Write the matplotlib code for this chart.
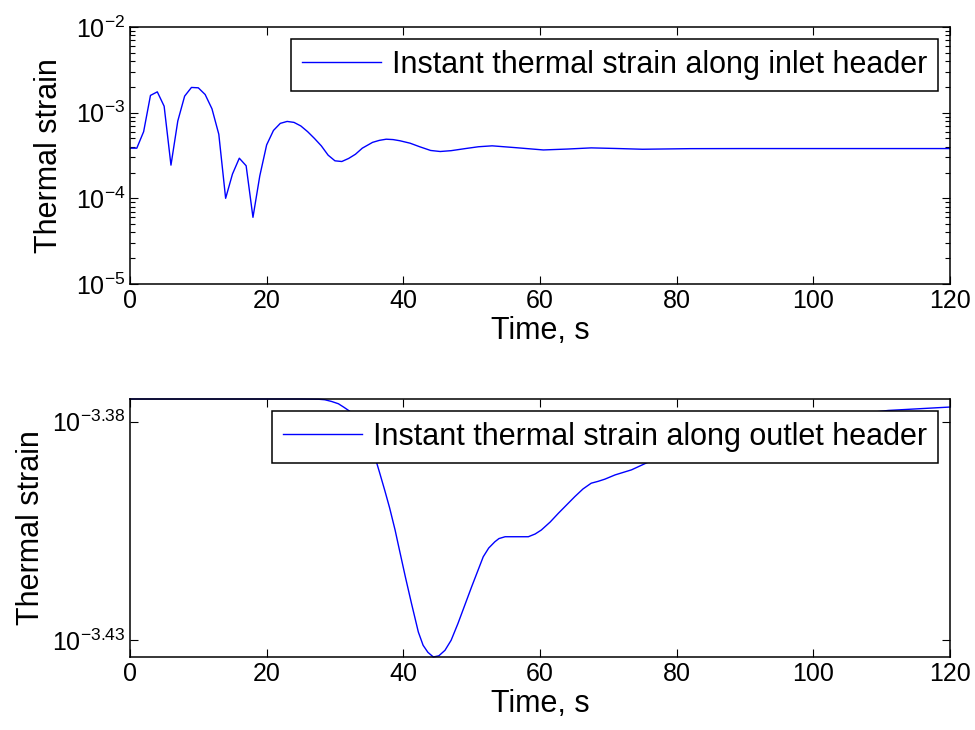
import numpy as np
import matplotlib
matplotlib.use('Agg')
import matplotlib.pyplot as plt
from matplotlib.ticker import FixedLocator, NullLocator, FixedFormatter

plt.rcParams['font.family'] = ['Liberation Sans', 'DejaVu Sans']
plt.rcParams['mathtext.fontset'] = 'custom'
plt.rcParams['mathtext.rm'] = 'Liberation Sans'
plt.rcParams['mathtext.it'] = 'Liberation Sans:italic'

# inlet header strain (x1e-4)
t_in = [0, 1, 2, 3, 4, 5, 6, 7, 8, 9, 10, 11, 12, 13, 14, 15, 16, 17, 18, 19,
        20, 21, 22, 23, 24, 25, 26, 27, 28, 29, 30, 31, 32, 33, 34, 35.5, 36.5,
        37.5, 38.5, 39.5, 41, 42.4, 44, 45.4, 47, 49, 51, 53, 56.5, 60.5, 64,
        67.5, 71, 75, 82, 90, 100, 110, 120]
s_in = [3.85, 3.85, 6.0, 15.9, 17.5, 11.9, 2.44, 8.0, 15.6, 19.7, 19.5, 16.3,
        11.1, 5.6, 1.0, 1.92, 2.94, 2.40, 0.60, 1.83, 4.2, 6.2, 7.5, 7.9, 7.7,
        7.0, 6.0, 5.0, 4.1, 3.19, 2.74, 2.69, 2.92, 3.27, 3.85, 4.5, 4.75,
        4.9, 4.85, 4.7, 4.4, 4.0, 3.62, 3.52, 3.6, 3.8, 4.0, 4.1, 3.9, 3.67,
        3.76, 3.88, 3.82, 3.74, 3.80, 3.81, 3.81, 3.81, 3.81]

# outlet header strain (x1e-4)
t_out = [0, 10, 20, 25, 27.6, 28.5, 29.5, 30.5, 31.3, 32.2, 33, 34, 35, 35.9,
         36.5, 37.3, 38, 38.8, 39.3, 40.3, 41.2, 42.2, 42.9, 43.6, 44.4, 45.2,
         46.1, 47, 48.0, 50.0, 51.7, 52.5, 53.4, 54, 54.9, 56.5, 58.3, 59.3,
         60.2, 61.5, 62.7, 65.1, 66.3, 67.5, 68.5, 69.5, 71, 73.4, 77.1, 85,
         95, 103, 111, 120]
s_out = [4.2190, 4.2190, 4.2190, 4.2190, 4.2185, 4.2174, 4.2136, 4.2085,
         4.2008, 4.1915, 4.1731, 4.1467, 4.1184, 4.0895, 4.0601, 4.0200,
         3.9837, 3.9375, 3.9050, 3.8416, 3.7880, 3.7315, 3.7054, 3.6917,
         3.6826, 3.6849, 3.6956, 3.7152, 3.7482, 3.8214, 3.8824, 3.9003,
         3.9132, 3.9198, 3.9236, 3.9236, 3.9236, 3.9293, 3.9375, 3.9542,
         3.9725, 4.0074, 4.0237, 4.0359, 4.0398, 4.0445, 4.0536, 4.0644,
         4.0895, 4.13, 4.16, 4.18, 4.1937, 4.2012]

top_label = 'Instant thermal strain along inlet header'
bot_label = 'Instant thermal strain along outlet header'
x_ticks = [0, 20, 40, 60, 80, 100, 120]
bot_yticks = [10 ** -3.43, 10 ** -3.38]
bot_yticklabels = [r'$10^{-3.43}$', r'$10^{-3.38}$']

fig = plt.figure(figsize=(9.75, 7.3), dpi=100)
ax1 = fig.add_axes([0.1333, 0.611, 0.841, 0.352])
ax2 = fig.add_axes([0.1333, 0.100, 0.841, 0.3534])

s_in = np.array(s_in) * 1e-4
s_out = np.array(s_out) * 1e-4

ax1.semilogy(t_in, s_in, color='#0000ff', lw=1.0, label=top_label)
ax1.set_xlim(0, 120)
ax1.set_ylim(1e-5, 1e-2)

ax2.semilogy(t_out, s_out, color='#0000ff', lw=1.0, label=bot_label, clip_on=False)
ax2.set_xlim(0, 120)
ax2.set_ylim(s_out.min(), s_out.max())
ax2.yaxis.set_major_locator(FixedLocator(bot_yticks))
ax2.yaxis.set_major_formatter(FixedFormatter(bot_yticklabels))
ax2.yaxis.set_minor_locator(NullLocator())

for ax in (ax1, ax2):
  ax.set_xticks(x_ticks)
  ax.tick_params(which='both', direction='in', top=True, right=True,
                 labelsize=18, width=0.8)
  ax.tick_params(which='major', length=6)
  ax.tick_params(which='minor', length=3.5)
  for sp in ax.spines.values():
    sp.set_linewidth(1.1)
  ax.set_xlabel('Time, s', fontsize=22, labelpad=2)
  ax.set_ylabel('Thermal strain', fontsize=22)
  leg = ax.legend(loc='upper right', fontsize=22, fancybox=False,
                  framealpha=1, edgecolor='black', borderaxespad=0.4,
                  handlelength=2.6, handletextpad=0.35, borderpad=0.35)
  leg.get_frame().set_linewidth(1.1)

ax1.yaxis.labelpad = 8
ax2.yaxis.labelpad = 4

fig.savefig('out.png', dpi=100)
